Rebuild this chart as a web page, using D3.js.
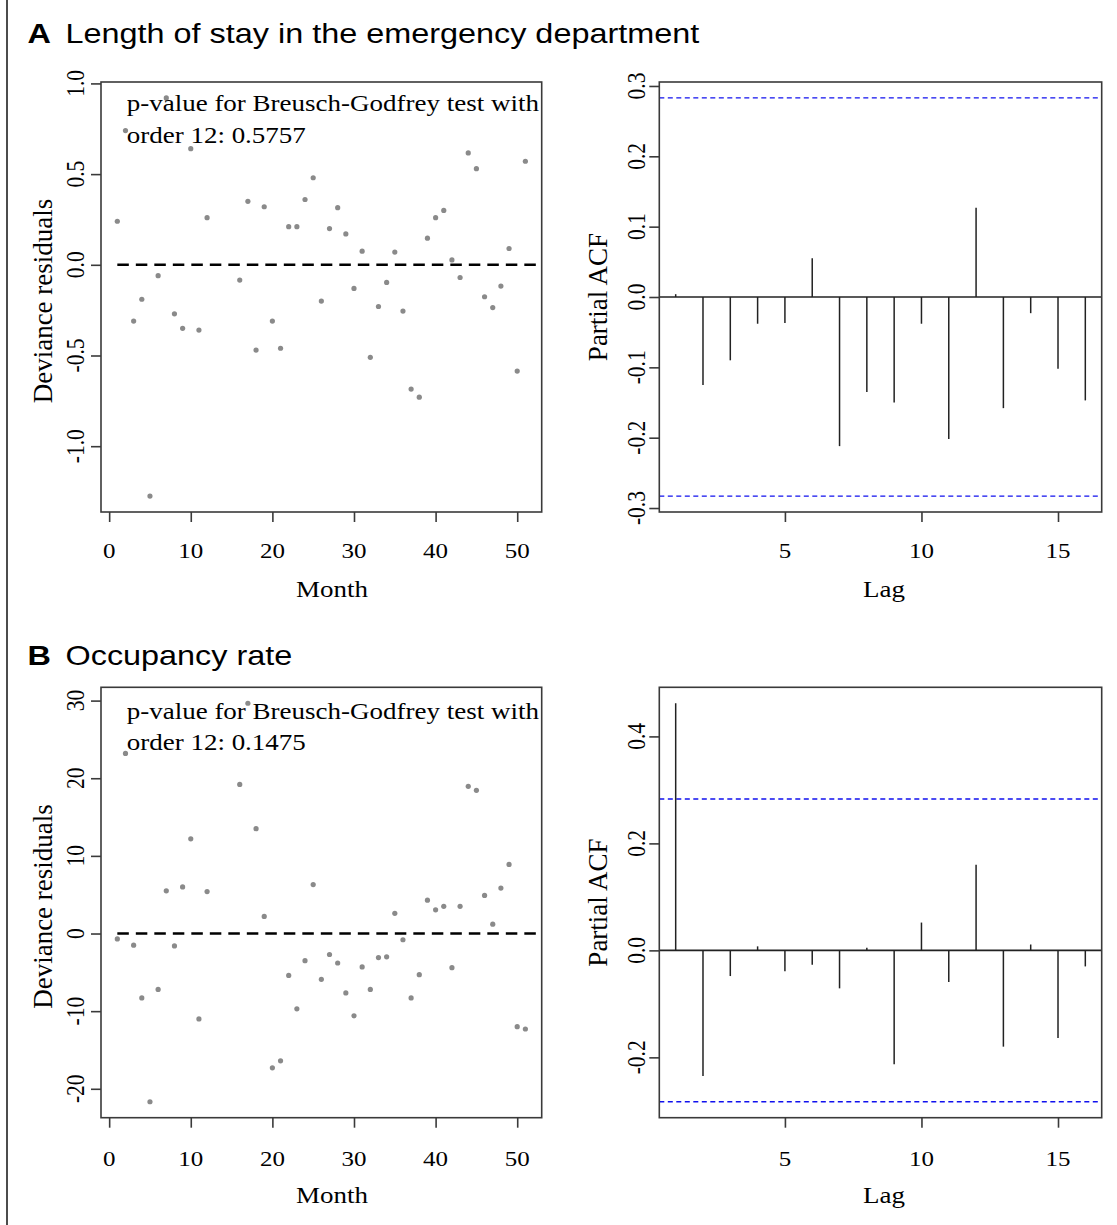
<!DOCTYPE html>
<html>
<head>
<meta charset="utf-8">
<script src="https://cdn.jsdelivr.net/npm/d3@7"></script>
<style>
  html, body { margin: 0; padding: 0; background: #fff; }
  svg { display: block; }
</style>
</head>
<body>
<svg id="fig" width="1117" height="1225"></svg>
<script>
// ---- Data -------------------------------------------------------------
// Months with residuals (months 13-15 have none)
const monthsA = [1,2,3,4,5,6,7,8,9,10,11,12,16,17,18,19,20,21,22,23,24,25,26,27,28,29,30,31,32,33,34,35,36,37,38,39,40,41,42,43,44,45,46,47,48,49,50,51];
// A: length of stay, deviance residuals
const residA = [0.24,0.74,-0.31,-0.19,-1.275,-0.06,0.92,-0.27,-0.35,0.64,-0.36,0.26,-0.084,0.35,-0.47,0.32,-0.31,-0.46,0.21,0.21,0.36,0.48,-0.2,0.2,0.315,0.17,-0.13,0.075,-0.51,-0.23,-0.097,0.07,-0.255,-0.685,-0.73,0.147,0.26,0.30,0.027,-0.07,0.617,0.53,-0.176,-0.236,-0.117,0.09,-0.586,0.571];
// B: occupancy rate, deviance residuals
const monthsB = monthsA;
const residB = [-0.7,23.2,-1.5,-8.3,-21.67,-7.2,5.5,-1.6,6.0,12.2,-11.0,5.4,19.2,29.66,13.5,2.2,-17.3,-16.4,-5.4,-9.7,-3.5,6.3,-5.9,-2.7,-3.8,-7.65,-10.6,-4.3,-7.2,-3.1,-3.0,2.6,-0.8,-8.3,-5.3,4.3,3.05,3.5,-4.4,3.5,18.96,18.44,4.9,1.2,5.85,8.9,-12.0,-12.3];

// Partial autocorrelations, lags 1..16
const lags = [1,2,3,4,5,6,7,8,9,10,11,12,13,14,15,16];
const pacfA = [0.004,-0.125,-0.09,-0.038,-0.037,0.055,-0.212,-0.135,-0.15,-0.038,-0.202,0.127,-0.158,-0.023,-0.102,-0.147];
const pacfB = [0.462,-0.235,-0.048,0.0075,-0.039,-0.027,-0.071,0.005,-0.213,0.052,-0.059,0.16,-0.18,0.011,-0.164,-0.03];
const ciLimit = 0.283;   // 95% bounds for the PACF

// Tick values
const monthTicks = [0,10,20,30,40,50];
const lagTicks = [5,10,15];
const residTicksA = [-1.0,-0.5,0.0,0.5,1.0];
const residTicksB = [-20,-10,0,10,20,30];
const pacfTicksA = [-0.3,-0.2,-0.1,0.0,0.1,0.2,0.3];
const pacfTicksB = [-0.2,0.0,0.2,0.4];
const zeroLineSpan = [1, 52.5];

// Panel titles and annotations
const panelLetters = ["A", "B"];
const panelTitles = ["Length of stay in the emergency department", "Occupancy rate"];
const bgTests = ["0.5757", "0.1475"];

// ---- Layout -----------------------------------------------------------
const SERIF = "'Liberation Serif','Times New Roman',Times,serif";
const SANS = "'Liberation Sans',Arial,Helvetica,sans-serif";
const SY = 0.86;  // vertical squeeze of the lettering
const svg = d3.select("#fig");

const leftBox = { x0: 101, x1: 541.7 };
const rightBox = { x0: 659.3, x1: 1101.7 };
const rows = [
  { y0: 82, y1: 512, titleY: 43.3, tickLabY: 558.3, axisLabY: 596.7 },
  { y0: 687.3, y1: 1117.7, titleY: 665, tickLabY: 1166, axisLabY: 1203 }
];

// page rule on the left
svg.append("line").attr("x1", 7).attr("x2", 7).attr("y1", 0).attr("y2", 1225)
  .attr("stroke", "#111").attr("stroke-width", 1.5);

function padDomain(lo, hi) {
  const p = (hi - lo) * 0.04;
  return [lo - p, hi + p];
}

function hText(x, y, str, size, family, anchor, weight) {
  return svg.append("text")
    .attr("transform", `translate(${x},${y}) scale(1,${SY})`)
    .attr("text-anchor", anchor || "start")
    .attr("font-family", family)
    .attr("font-size", size)
    .attr("font-weight", weight || "normal")
    .attr("fill", "#000")
    .text(str);
}
function vText(x, y, str, size, squeeze) {
  return svg.append("text")
    .attr("transform", `translate(${x},${y}) scale(1,${squeeze}) rotate(-90)`)
    .attr("text-anchor", "middle")
    .attr("dy", "0.35em")
    .attr("font-family", SERIF)
    .attr("font-size", size)
    .attr("fill", "#000")
    .text(str);
}

function frame(box, row) {
  svg.append("rect")
    .attr("x", box.x0).attr("y", row.y0)
    .attr("width", box.x1 - box.x0).attr("height", row.y1 - row.y0)
    .attr("fill", "none").attr("stroke", "#3a3a3a").attr("stroke-width", 1.6);
}

function xAxis(scale, ticks, row, fmt) {
  const g = svg.append("g").attr("transform", `translate(0,${row.y1})`);
  g.call(d3.axisBottom(scale).tickValues(ticks).tickSize(10).tickFormat(""))
    .call(a => a.select(".domain").remove())
    .call(a => a.selectAll("line").attr("stroke", "#3a3a3a").attr("stroke-width", 1.6));
  ticks.forEach(t => hText(scale(t), row.tickLabY, fmt(t), 25, SERIF, "middle"));
}

function yAxis(scale, ticks, box, labX, fmt) {
  const g = svg.append("g").attr("transform", `translate(${box.x0},0)`);
  g.call(d3.axisLeft(scale).tickValues(ticks).tickSize(10).tickFormat(""))
    .call(a => a.select(".domain").remove())
    .call(a => a.selectAll("line").attr("stroke", "#3a3a3a").attr("stroke-width", 1.6));
  ticks.forEach(t => vText(labX, scale(t), fmt(t), 25, SY));
}

function residualPanel(r, months, resid, yTicks, fmtY) {
  const row = rows[r];
  const x = d3.scaleLinear().domain(padDomain(d3.min(months), d3.max(months))).range([leftBox.x0, leftBox.x1]);
  const ext = d3.extent(resid);
  const y = d3.scaleLinear().domain(padDomain(ext[0], ext[1])).range([row.y1, row.y0]);

  // zero reference
  svg.append("line")
    .attr("x1", x(zeroLineSpan[0])).attr("x2", x(zeroLineSpan[1]))
    .attr("y1", y(0)).attr("y2", y(0))
    .attr("stroke", "#000").attr("stroke-width", 2.6).attr("stroke-dasharray", "11.5,7");

  svg.append("g").selectAll("circle")
    .data(months.map((m, i) => [m, resid[i]]))
    .join("circle")
    .attr("cx", d => x(d[0])).attr("cy", d => y(d[1]))
    .attr("r", 2.6).attr("fill", "#8a8a8a");

  frame(leftBox, row);
  xAxis(x, monthTicks, row, d => String(d));
  yAxis(y, yTicks, leftBox, 75, fmtY);

  hText(332, row.axisLabY, "Month", 27, SERIF, "middle");
  vText(43, (row.y0 + row.y1) / 2 + 4, "Deviance residuals", 27, 1);

  // Breusch-Godfrey annotation
  hText(126.7, row.y0 + 29 + r * 2.5, "p-value for Breusch-Godfrey test with", 27, SERIF, "start");
  hText(126.7, row.y0 + 61 + r * 1.5, "order 12: " + bgTests[r], 27, SERIF, "start");
}

function pacfPanel(r, vals, yTicks) {
  const row = rows[r];
  const x = d3.scaleLinear().domain(padDomain(d3.min(lags), d3.max(lags))).range([rightBox.x0, rightBox.x1]);
  const lo = Math.min(-ciLimit, d3.min(vals)), hi = Math.max(ciLimit, d3.max(vals));
  const y = d3.scaleLinear().domain(padDomain(lo, hi)).range([row.y1, row.y0]);

  // confidence bounds
  [ciLimit, -ciLimit].forEach(c => {
    svg.append("line")
      .attr("x1", rightBox.x0).attr("x2", rightBox.x1)
      .attr("y1", y(c)).attr("y2", y(c))
      .attr("stroke", "#1010ee").attr("stroke-width", 1.3).attr("stroke-dasharray", "5,3.5");
  });
  // zero line
  svg.append("line")
    .attr("x1", rightBox.x0).attr("x2", rightBox.x1)
    .attr("y1", y(0)).attr("y2", y(0))
    .attr("stroke", "#222").attr("stroke-width", 1.6);
  // spikes
  svg.append("g").selectAll("line")
    .data(lags.map((l, i) => [l, vals[i]]))
    .join("line")
    .attr("x1", d => x(d[0])).attr("x2", d => x(d[0]))
    .attr("y1", y(0)).attr("y2", d => y(d[1]))
    .attr("stroke", "#222").attr("stroke-width", 1.5);

  frame(rightBox, row);
  xAxis(x, lagTicks, row, d => String(d));
  yAxis(y, yTicks, rightBox, 636, d => d.toFixed(1));

  hText(884, row.axisLabY, "Lag", 27, SERIF, "middle");
  vText(598, (row.y0 + row.y1) / 2, "Partial ACF", 27, 1);
}

// panel headings
rows.forEach((row, i) => {
  hText(27.5, row.titleY, panelLetters[i], 32.4, SANS, "start", "bold");
  hText(65.5, row.titleY, panelTitles[i], 32.4, SANS, "start");
});

residualPanel(0, monthsA, residA, residTicksA, d => d.toFixed(1));
pacfPanel(0, pacfA, pacfTicksA);
residualPanel(1, monthsB, residB, residTicksB, d => String(d));
pacfPanel(1, pacfB, pacfTicksB);
</script>
</body>
</html>
